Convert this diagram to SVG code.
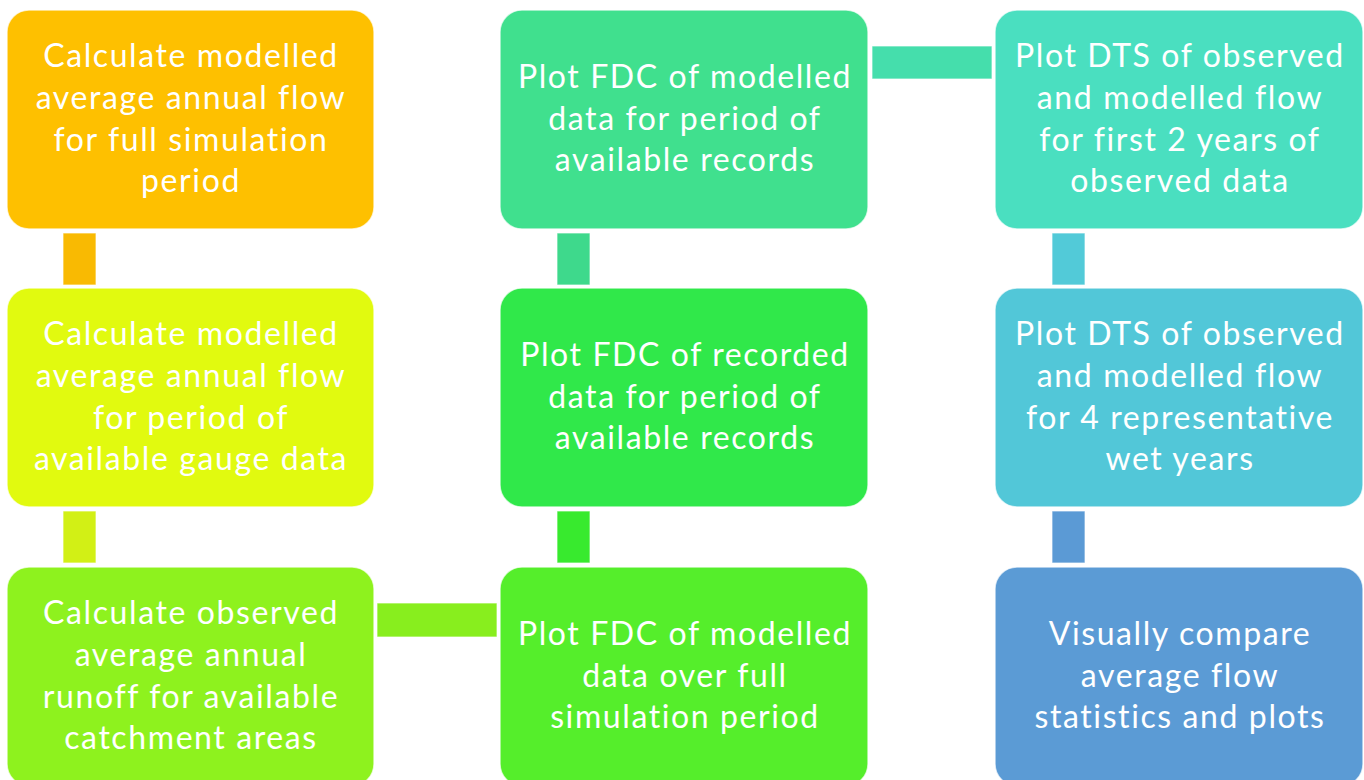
<svg xmlns="http://www.w3.org/2000/svg" width="1364" height="780" viewBox="0 0 1364 780">
  <style>
    .box { stroke: #ffffff; stroke-opacity: 0.7; stroke-width: 1.5; }
    .bar { stroke: #ffffff; stroke-opacity: 0.7; stroke-width: 1; }
    .lbl { font-family: Lato, "Liberation Sans", sans-serif; font-size: 32px; letter-spacing: 1.6px; fill: #ffffff; text-anchor: middle; }
  </style>
  <rect width="1364" height="780" fill="#ffffff"/>

  <!-- connectors between steps -->
  <g id="connectors">
    <rect class="bar" x="63" y="233" width="33" height="52" fill="#F9BA02"/>
    <rect class="bar" x="63" y="511" width="33" height="52" fill="#D2F015"/>
    <rect class="bar" x="377" y="603" width="120" height="34" fill="#88EE1E"/>
    <rect class="bar" x="557" y="511" width="33" height="52" fill="#38EA2E"/>
    <rect class="bar" x="557" y="233" width="33" height="52" fill="#3ED98C"/>
    <rect class="bar" x="872" y="46" width="120" height="33" fill="#45DEAC"/>
    <rect class="bar" x="1052" y="233" width="33" height="52" fill="#52CAD8"/>
    <rect class="bar" x="1052" y="511" width="33" height="52" fill="#5B9AD5"/>
  </g>

  <!-- column 1 -->
  <g id="step1">
    <rect class="box" x="7" y="10" width="367" height="219" rx="22" fill="#FEC000"/>
    <text class="lbl" x="191" y="67">Calculate modelled</text>
    <text class="lbl" x="191" y="109">average annual flow</text>
    <text class="lbl" x="191" y="150.5">for full simulation</text>
    <text class="lbl" x="191" y="192">period</text>
  </g>
  <g id="step2">
    <rect class="box" x="7" y="288" width="367" height="219" rx="22" fill="#E1FA0F"/>
    <text class="lbl" x="191" y="345">Calculate modelled</text>
    <text class="lbl" x="191" y="387">average annual flow</text>
    <text class="lbl" x="191" y="428.5">for period of</text>
    <text class="lbl" x="191" y="470">available gauge data</text>
  </g>
  <g id="step3">
    <rect class="box" x="7" y="567" width="367" height="219" rx="22" fill="#8EF21E"/>
    <text class="lbl" x="191" y="624">Calculate observed</text>
    <text class="lbl" x="191" y="666">average annual</text>
    <text class="lbl" x="191" y="707.5">runoff for available</text>
    <text class="lbl" x="191" y="749">catchment areas</text>
  </g>

  <!-- column 2 -->
  <g id="step4">
    <rect class="box" x="500" y="10" width="368" height="219" rx="22" fill="#40E08E"/>
    <text class="lbl" x="685" y="88">Plot FDC of modelled</text>
    <text class="lbl" x="685" y="129.5">data for period of</text>
    <text class="lbl" x="685" y="171">available records</text>
  </g>
  <g id="step5">
    <rect class="box" x="500" y="288" width="368" height="219" rx="22" fill="#30E84A"/>
    <text class="lbl" x="685" y="366">Plot FDC of recorded</text>
    <text class="lbl" x="685" y="407.5">data for period of</text>
    <text class="lbl" x="685" y="449">available records</text>
  </g>
  <g id="step6">
    <rect class="box" x="500" y="567" width="368" height="219" rx="22" fill="#55EE2B"/>
    <text class="lbl" x="685" y="645">Plot FDC of modelled</text>
    <text class="lbl" x="685" y="686.5">data over full</text>
    <text class="lbl" x="685" y="728">simulation period</text>
  </g>

  <!-- column 3 -->
  <g id="step7">
    <rect class="box" x="995" y="10" width="368" height="219" rx="22" fill="#4ADFC0"/>
    <text class="lbl" x="1180" y="67">Plot DTS of observed</text>
    <text class="lbl" x="1180" y="109">and modelled flow</text>
    <text class="lbl" x="1180" y="150.5">for first 2 years of</text>
    <text class="lbl" x="1180" y="192">observed data</text>
  </g>
  <g id="step8">
    <rect class="box" x="995" y="288" width="368" height="219" rx="22" fill="#52C7D8"/>
    <text class="lbl" x="1180" y="345">Plot DTS of observed</text>
    <text class="lbl" x="1180" y="387">and modelled flow</text>
    <text class="lbl" x="1180" y="428.5">for 4 representative</text>
    <text class="lbl" x="1180" y="470">wet years</text>
  </g>
  <g id="step9">
    <rect class="box" x="995" y="567" width="368" height="219" rx="22" fill="#5B9BD5"/>
    <text class="lbl" x="1180" y="645">Visually compare</text>
    <text class="lbl" x="1180" y="686.5">average flow</text>
    <text class="lbl" x="1180" y="728">statistics and plots</text>
  </g>
</svg>
